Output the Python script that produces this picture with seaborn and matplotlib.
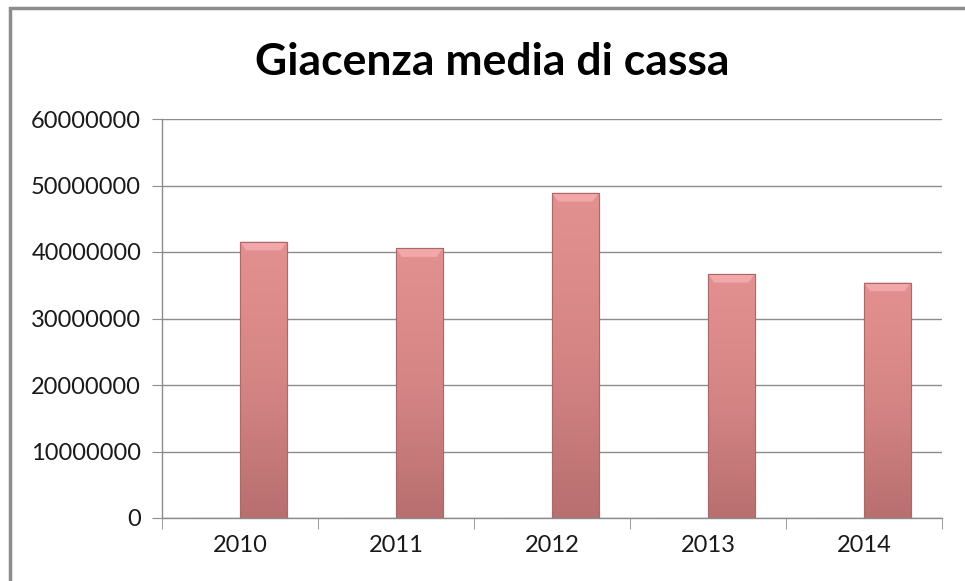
import seaborn as sns
import matplotlib.pyplot as plt
import matplotlib.colors as mcolors
from matplotlib.patches import Rectangle, Polygon
import numpy as np
import pandas as pd

# data
years = ['2010', '2011', '2012', '2013', '2014']
serie_vuota = [0, 0, 0, 0, 0]
giacenza = [41550000, 40550000, 48900000, 36700000, 35400000]
title = 'Giacenza media di cassa'

df = pd.DataFrame({
    'anno': years * 2,
    'valore': serie_vuota + giacenza,
    'serie': ['Serie 1'] * len(years) + ['Serie 2'] * len(years),
})

sns.set_style('white')
plt.rcParams['font.family'] = ['Lato', 'DejaVu Sans']

fig = plt.figure(figsize=(9.65, 5.81), dpi=100)
ax = fig.add_axes([162 / 965, (581 - 518) / 581, (942 - 162) / 965, (518 - 119) / 581])

sns.barplot(data=df, x='anno', y='valore', hue='serie', dodge=True, width=0.6,
            palette=['#E8B4B4', '#D68383'], legend=False, ax=ax, saturation=1)

# gradient fill + bevel on the bars
cmap = mcolors.LinearSegmentedColormap.from_list('bar', ['#E39090', '#D68585', '#B86F6F'])
grad = np.linspace(0, 1, 256).reshape(-1, 1)
for p in ax.patches:
    x0, y0 = p.get_x(), p.get_y()
    w, h = p.get_width(), p.get_height()
    if h <= 0:
        p.set_edgecolor('#EBC4C4')
        p.set_linewidth(1.0)
        continue
    p.set_edgecolor('#9E6060')
    p.set_linewidth(0.8)
    im = ax.imshow(grad, cmap=cmap, aspect='auto', extent=(x0, x0 + w, y0, y0 + h),
                   origin='upper', zorder=p.get_zorder() + 0.1)
    im.set_clip_path(p)
    bev = 1300000
    ax.add_patch(Polygon([[x0, y0 + h], [x0 + w, y0 + h], [x0 + w - 0.04, y0 + h - bev],
                          [x0 + 0.04, y0 + h - bev]], closed=True, facecolor='#F2A8A8',
                         edgecolor='none', zorder=p.get_zorder() + 0.2))
    ax.add_patch(Rectangle((x0, y0), w, h, facecolor='none', edgecolor='#A86A6A',
                           linewidth=0.8, zorder=p.get_zorder() + 0.3))

ax.set_xlim(-0.5, len(years) - 0.5)
ax.set_ylim(0, 60000000)
ax.set_yticks(np.arange(0, 60000001, 10000000))
ax.set_yticklabels([str(v) for v in range(0, 60000001, 10000000)])
ax.yaxis.grid(True, color='#8C8C8C', linewidth=1.0)
ax.set_axisbelow(True)
ax.set_xlabel('')
ax.set_ylabel('')

for s in ['top', 'right']:
    ax.spines[s].set_visible(False)
for s in ['left', 'bottom']:
    ax.spines[s].set_color('#8C8C8C')
    ax.spines[s].set_linewidth(1.0)

ax.tick_params(axis='y', which='major', length=7, color='#8C8C8C', labelsize=17,
               pad=8, left=True, labelcolor='#1a1a1a')
ax.tick_params(axis='x', which='major', length=0, labelsize=17, pad=12,
               labelcolor='#1a1a1a')
ax.set_xticks(np.arange(-0.5, len(years), 1.0), minor=True)
ax.tick_params(axis='x', which='minor', length=8, color='#8C8C8C', bottom=True)

fig.text(492 / 965, 1 - 62 / 581, title, ha='center', va='center',
         fontsize=32, fontweight='bold', color='black')

# outer chart frame (cut by the image border on the right and bottom)
fig.patches.append(Rectangle((10 / 965, -0.05), 1.05, 1 - 8 / 581 + 0.05,
                             transform=fig.transFigure, facecolor='none',
                             edgecolor='#8C8C8C', linewidth=2.5))

fig.savefig('out.png', dpi=100, facecolor='white')
